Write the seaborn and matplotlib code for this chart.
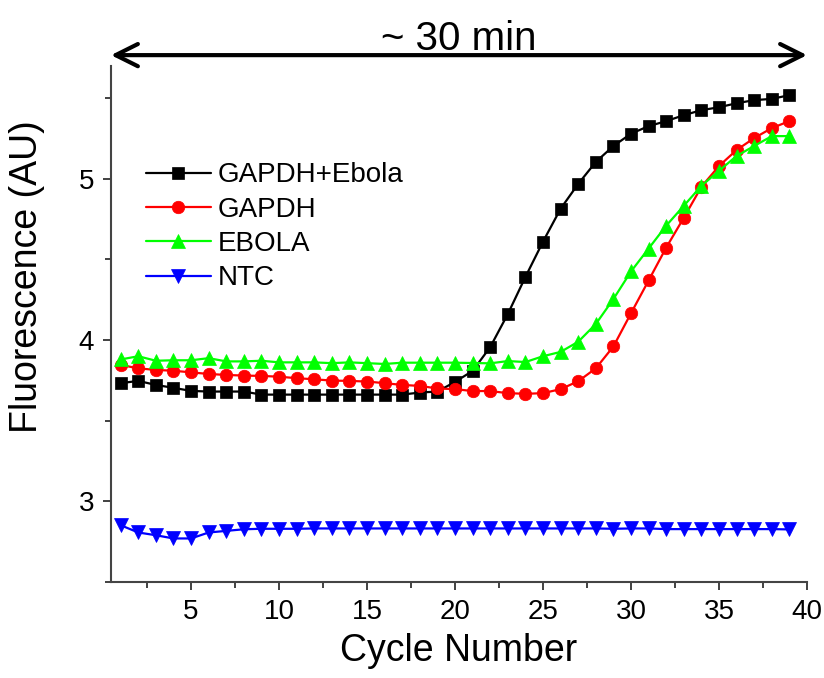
import numpy as np
import pandas as pd
import matplotlib
matplotlib.use("Agg")
import matplotlib.pyplot as plt
import seaborn as sns

# qPCR amplification curves, one reading per cycle
cycles = list(range(1, 40))

gapdh_ebola = [3.733, 3.747, 3.722, 3.704, 3.685, 3.681, 3.681, 3.681, 3.662, 3.662,
               3.662, 3.662, 3.662, 3.662, 3.662, 3.662, 3.662, 3.675, 3.681, 3.741,
               3.809, 3.957, 4.162, 4.392, 4.611, 4.815, 4.969, 5.105, 5.204, 5.280,
               5.327, 5.358, 5.395, 5.426, 5.444, 5.469, 5.488, 5.496, 5.519]

gapdh = [3.846, 3.825, 3.815, 3.810, 3.800, 3.790, 3.784, 3.780, 3.778, 3.773,
         3.764, 3.757, 3.749, 3.747, 3.743, 3.733, 3.722, 3.716, 3.700, 3.696,
         3.684, 3.684, 3.671, 3.667, 3.671, 3.696, 3.745, 3.825, 3.961, 4.167,
         4.370, 4.574, 4.759, 4.951, 5.080, 5.179, 5.253, 5.315, 5.358]

ebola = [3.880, 3.900, 3.872, 3.875, 3.875, 3.888, 3.868, 3.868, 3.872, 3.862,
         3.862, 3.862, 3.857, 3.862, 3.857, 3.852, 3.860, 3.860, 3.860, 3.860,
         3.858, 3.856, 3.870, 3.864, 3.900, 3.927, 3.990, 4.100, 4.255, 4.426,
         4.568, 4.710, 4.833, 4.957, 5.050, 5.142, 5.204, 5.265, 5.265]

ntc = [2.852, 2.807, 2.790, 2.770, 2.770, 2.807, 2.817, 2.827, 2.830, 2.830,
       2.830, 2.832, 2.832, 2.832, 2.832, 2.832, 2.832, 2.832, 2.832, 2.832,
       2.832, 2.832, 2.832, 2.832, 2.832, 2.832, 2.832, 2.832, 2.830, 2.832,
       2.832, 2.828, 2.828, 2.828, 2.828, 2.828, 2.828, 2.828, 2.826]

series_names = ["GAPDH+Ebola", "GAPDH", "EBOLA", "NTC"]
series_values = [gapdh_ebola, gapdh, ebola, ntc]
series_colors = ["#000000", "#ff0000", "#00ff00", "#0000ff"]
series_markers = ["s", "o", "^", "v"]
series_msize = [8.5, 9.0, 10.5, 10.5]

x_ticks = [5, 10, 15, 20, 25, 30, 35, 40]
y_ticks = [3, 4, 5]

df = pd.DataFrame({
    "Cycle": cycles * len(series_names),
    "Fluorescence": sum(series_values, []),
    "Sample": [n for n in series_names for _ in cycles],
})

sns.set_theme(style="ticks")
plt.rcParams["font.family"] = ["Liberation Sans", "DejaVu Sans"]
plt.rcParams["text.color"] = "black"
plt.rcParams["axes.labelcolor"] = "black"
plt.rcParams["xtick.color"] = "black"
plt.rcParams["ytick.color"] = "black"

fig = plt.figure(figsize=(8.24, 6.78), dpi=100)
ax = fig.add_axes([0.1347, 0.1416, 0.8447, 0.7611])

for name, color, marker, ms in zip(series_names, series_colors, series_markers, series_msize):
    sub = df[df["Sample"] == name]
    sns.lineplot(data=sub, x="Cycle", y="Fluorescence", ax=ax, color=color,
                 marker=marker, markersize=ms, markeredgecolor=color,
                 markeredgewidth=0.5, linewidth=1.6, label=name,
                 estimator=None, clip_on=False, zorder=3)

ax.set_xlim(0.45, 40)
ax.set_ylim(2.5, 5.7)
ax.set_xticks(x_ticks)
ax.set_yticks(y_ticks)
ax.set_xticks(np.arange(2.5, 40, 5), minor=True)
ax.set_yticks([2.5, 3.5, 4.5, 5.5], minor=True)
ax.tick_params(axis="both", which="major", direction="out", length=6, width=1.3,
               labelsize=20, color="#333333", labelcolor="black", pad=6)
ax.tick_params(axis="both", which="minor", direction="out", length=4, width=1.3,
               color="#333333")
for s in ("top", "right"):
    ax.spines[s].set_visible(False)
for s in ("left", "bottom"):
    ax.spines[s].set_linewidth(1.5)
    ax.spines[s].set_color("#444444")

ax.set_xlabel("Cycle Number", fontsize=27, labelpad=6, color="black")
ax.set_ylabel("Fluorescence (AU)", fontsize=27, color="black")
ax.yaxis.set_label_coords(-0.095, 0.591)

leg = ax.legend(loc="upper left", bbox_to_anchor=(0.05, 0.813), frameon=False,
                fontsize=20, handlelength=2.34, handletextpad=0.25,
                labelspacing=0.3, borderaxespad=0, borderpad=0)
for t in leg.get_texts():
    t.set_color("black")

# double-headed arrow spanning the run time
ax.annotate("", xy=(1.0, 1.021), xytext=(0.0, 1.021), xycoords="axes fraction",
            arrowprops=dict(arrowstyle="<->", lw=3, color="black",
                            mutation_scale=40, shrinkA=0, shrinkB=0),
            annotation_clip=False)
ax.text(0.5, 1.031, "~ 30 min", transform=ax.transAxes, ha="center", va="baseline",
        fontsize=29, color="black")

fig.savefig("out.png", dpi=100)
